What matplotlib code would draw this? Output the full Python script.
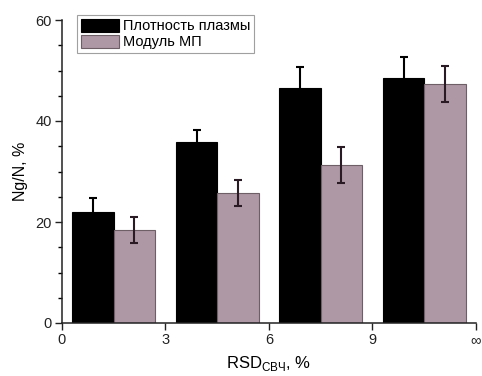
import matplotlib
matplotlib.use("Agg")
from matplotlib import pyplot as plt
from matplotlib.ticker import MultipleLocator
import numpy as np

plt.rcParams["font.family"] = ["Liberation Sans", "DejaVu Sans"]

# data
centers = [1.5, 4.5, 7.5, 10.5]
plasma = [22.0, 35.8, 46.5, 48.5]
plasma_err = [2.7, 2.4, 4.1, 4.1]
module = [18.4, 25.7, 31.3, 47.3]
module_err = [2.5, 2.6, 3.6, 3.6]
xtick_pos = [0, 3, 6, 9, 12]
xtick_lbl = ["0", "3", "6", "9", "\u221e"]
labels = ["Плотность плазмы", "Модуль МП"]

width = 1.2
pink = "#ae98a5"

fig = plt.figure(figsize=(4.82, 3.76), dpi=100)
ax = fig.add_axes([62 / 482, 1 - 323 / 376, (476 - 62) / 482, (323 - 20) / 376])

x = np.array(centers)
ax.bar(x - width / 2, plasma, width, color="black", edgecolor="black",
       linewidth=0.8, label=labels[0], zorder=2)
ax.bar(x + width / 2, module, width, color=pink, edgecolor="#6e5e66",
       linewidth=0.8, label=labels[1], zorder=2)
ax.errorbar(x - width / 2, plasma, yerr=plasma_err, fmt="none", ecolor="black",
            elinewidth=1.5, capsize=3, capthick=1.5, zorder=3)
ax.errorbar(x + width / 2, module, yerr=module_err, fmt="none", ecolor="#2a1a24",
            elinewidth=1.5, capsize=3, capthick=1.5, zorder=3)

ax.set_xlim(0, 12)
ax.set_ylim(0, 60)
ax.set_xticks(xtick_pos)
ax.set_xticklabels(xtick_lbl)
ax.set_yticks([0, 20, 40, 60])
ax.yaxis.set_minor_locator(MultipleLocator(5))
ax.tick_params(axis="both", which="major", direction="out", length=5,
               width=1, labelsize=10.5, colors="#222222", pad=2.5)
ax.tick_params(axis="y", which="minor", direction="out", length=3, width=1)
for s in ["top", "right"]:
    ax.spines[s].set_visible(False)
for s in ["left", "bottom"]:
    ax.spines[s].set_linewidth(1.1)
    ax.spines[s].set_color("#222222")

ax.set_ylabel("Ng/N, %", fontsize=11.5, labelpad=5)
ax.set_xlabel("RSD$_{\\mathregular{СВЧ}}$, %", fontsize=12, labelpad=5)

leg = ax.legend(loc="upper left", bbox_to_anchor=(77 / 482, 1 - 15 / 376),
                bbox_transform=fig.transFigure, borderaxespad=0,
                fontsize=10.5, fancybox=False, handlelength=2.6, handleheight=1.0,
                handletextpad=0.3, borderpad=0.25, labelspacing=0.1,
                frameon=True)
leg.get_frame().set_edgecolor("#888888")
leg.get_frame().set_linewidth(0.8)

fig.savefig("out.png", dpi=100)
